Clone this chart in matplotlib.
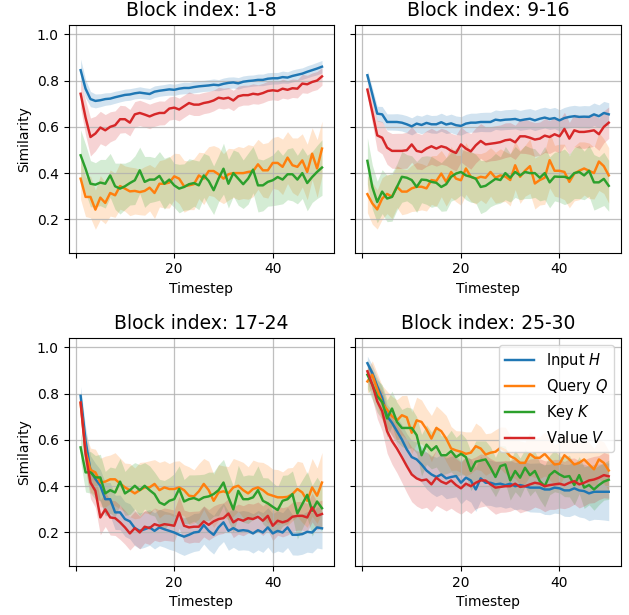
import numpy as np
import matplotlib
matplotlib.use("Agg")
import matplotlib.pyplot as plt

timesteps = np.arange(1, 51)
titles = ["Block index: 1-8", "Block index: 9-16", "Block index: 17-24", "Block index: 25-30"]
labels = ["Input $H$", "Query $Q$", "Key $K$", "Value $V$"]
colors = ["#1f77b4", "#ff7f0e", "#2ca02c", "#d62728"]

# Block 1-8
h1 = [0.845, 0.765, 0.720, 0.712, 0.715, 0.720, 0.722, 0.728, 0.733, 0.738, 0.740, 0.745, 0.748, 0.745, 0.742, 0.752, 0.756, 0.759, 0.762, 0.760,
      0.765, 0.768, 0.768, 0.772, 0.775, 0.777, 0.779, 0.782, 0.780, 0.786, 0.790, 0.792, 0.788, 0.795, 0.798, 0.800, 0.803, 0.803, 0.808, 0.810,
      0.810, 0.815, 0.813, 0.820, 0.825, 0.830, 0.838, 0.845, 0.852, 0.860]
q1 = [0.376, 0.297, 0.297, 0.242, 0.294, 0.271, 0.314, 0.304, 0.344, 0.333, 0.321, 0.323, 0.318, 0.323, 0.337, 0.314, 0.354, 0.354, 0.359, 0.386,
      0.376, 0.343, 0.347, 0.352, 0.390, 0.376, 0.409, 0.409, 0.395, 0.376, 0.395, 0.400, 0.400, 0.400, 0.405, 0.408, 0.438, 0.412, 0.412, 0.444,
      0.444, 0.427, 0.467, 0.434, 0.427, 0.455, 0.405, 0.484, 0.420, 0.506]
k1 = [0.477, 0.419, 0.354, 0.350, 0.359, 0.354, 0.390, 0.343, 0.333, 0.343, 0.357, 0.369, 0.412, 0.362, 0.372, 0.372, 0.388, 0.354, 0.372, 0.347,
      0.333, 0.340, 0.352, 0.357, 0.347, 0.390, 0.366, 0.326, 0.376, 0.419, 0.354, 0.400, 0.376, 0.352, 0.376, 0.415, 0.347, 0.347, 0.362, 0.369,
      0.383, 0.372, 0.395, 0.395, 0.372, 0.400, 0.357, 0.383, 0.405, 0.424]
v1 = [0.743, 0.640, 0.556, 0.571, 0.597, 0.585, 0.600, 0.607, 0.633, 0.633, 0.618, 0.654, 0.660, 0.653, 0.645, 0.654, 0.660, 0.660, 0.679, 0.683,
      0.675, 0.689, 0.703, 0.696, 0.696, 0.703, 0.707, 0.714, 0.726, 0.722, 0.726, 0.714, 0.732, 0.737, 0.737, 0.743, 0.740, 0.746, 0.755, 0.758,
      0.755, 0.765, 0.760, 0.767, 0.765, 0.787, 0.784, 0.794, 0.800, 0.818]
h1_sd = [0.048, 0.040, 0.033, 0.030, 0.028, 0.027, 0.026, 0.026, 0.025, 0.025, 0.025, 0.024, 0.025, 0.024, 0.024, 0.025, 0.024, 0.024, 0.025, 0.024,
         0.024, 0.025, 0.024, 0.025, 0.025, 0.024, 0.025, 0.025, 0.024, 0.025, 0.025, 0.024, 0.025, 0.025, 0.025, 0.024, 0.025, 0.025, 0.026, 0.025,
         0.025, 0.026, 0.025, 0.026, 0.026, 0.025, 0.026, 0.026, 0.027, 0.027]
q1_sd = [0.090, 0.085, 0.090, 0.085, 0.095, 0.090, 0.100, 0.095, 0.100, 0.098, 0.105, 0.100, 0.098, 0.105, 0.100, 0.110, 0.100, 0.105, 0.110, 0.100,
         0.108, 0.112, 0.105, 0.110, 0.100, 0.112, 0.105, 0.110, 0.115, 0.108, 0.112, 0.105, 0.115, 0.110, 0.118, 0.110, 0.108, 0.115, 0.120, 0.110,
         0.115, 0.120, 0.112, 0.118, 0.125, 0.115, 0.120, 0.112, 0.125, 0.118]
k1_sd = [0.110, 0.105, 0.100, 0.095, 0.100, 0.105, 0.095, 0.100, 0.110, 0.100, 0.095, 0.105, 0.100, 0.110, 0.100, 0.095, 0.105, 0.110, 0.100, 0.095,
         0.105, 0.100, 0.110, 0.100, 0.105, 0.095, 0.110, 0.105, 0.100, 0.110, 0.105, 0.100, 0.115, 0.105, 0.110, 0.100, 0.115, 0.110, 0.105, 0.110,
         0.120, 0.105, 0.110, 0.115, 0.105, 0.110, 0.120, 0.110, 0.115, 0.120]
v1_sd = [0.062, 0.075, 0.082, 0.075, 0.070, 0.068, 0.065, 0.062, 0.060, 0.058, 0.057, 0.055, 0.055, 0.054, 0.053, 0.052, 0.052, 0.051, 0.050, 0.050,
         0.049, 0.048, 0.048, 0.047, 0.047, 0.046, 0.046, 0.045, 0.045, 0.045, 0.044, 0.044, 0.044, 0.043, 0.043, 0.043, 0.042, 0.042, 0.042, 0.041,
         0.041, 0.041, 0.040, 0.040, 0.040, 0.040, 0.039, 0.039, 0.039, 0.038]

# Block 9-16
h2 = [0.823, 0.741, 0.657, 0.654, 0.621, 0.621, 0.621, 0.618, 0.611, 0.602, 0.614, 0.608, 0.617, 0.611, 0.611, 0.620, 0.610, 0.615, 0.607, 0.604,
      0.614, 0.618, 0.618, 0.621, 0.621, 0.621, 0.631, 0.628, 0.631, 0.632, 0.634, 0.628, 0.632, 0.635, 0.628, 0.635, 0.640, 0.634, 0.638, 0.628,
      0.638, 0.643, 0.646, 0.643, 0.644, 0.643, 0.654, 0.646, 0.660, 0.654]
q2 = [0.309, 0.269, 0.243, 0.290, 0.310, 0.298, 0.341, 0.320, 0.320, 0.334, 0.341, 0.341, 0.334, 0.370, 0.366, 0.398, 0.362, 0.405, 0.376, 0.369,
      0.420, 0.384, 0.376, 0.384, 0.380, 0.405, 0.380, 0.390, 0.385, 0.370, 0.434, 0.384, 0.410, 0.430, 0.355, 0.370, 0.380, 0.456, 0.410, 0.410,
      0.405, 0.362, 0.398, 0.410, 0.420, 0.410, 0.400, 0.450, 0.430, 0.390]
k2 = [0.453, 0.340, 0.275, 0.320, 0.290, 0.297, 0.340, 0.384, 0.380, 0.370, 0.340, 0.372, 0.370, 0.362, 0.358, 0.340, 0.352, 0.384, 0.398, 0.405,
      0.390, 0.384, 0.376, 0.340, 0.345, 0.360, 0.375, 0.370, 0.400, 0.380, 0.405, 0.390, 0.405, 0.400, 0.400, 0.380, 0.400, 0.360, 0.385, 0.384,
      0.384, 0.377, 0.400, 0.405, 0.390, 0.410, 0.360, 0.360, 0.375, 0.345]
v2 = [0.761, 0.664, 0.563, 0.553, 0.510, 0.496, 0.496, 0.496, 0.499, 0.524, 0.496, 0.491, 0.506, 0.516, 0.506, 0.516, 0.510, 0.496, 0.487, 0.524,
      0.506, 0.494, 0.520, 0.539, 0.524, 0.527, 0.530, 0.534, 0.542, 0.545, 0.533, 0.559, 0.559, 0.553, 0.545, 0.549, 0.562, 0.556, 0.568, 0.559,
      0.591, 0.549, 0.585, 0.578, 0.578, 0.581, 0.585, 0.568, 0.600, 0.618]
h2_sd = [0.020, 0.028, 0.032, 0.034, 0.035, 0.035, 0.036, 0.036, 0.037, 0.037, 0.037, 0.038, 0.038, 0.038, 0.039, 0.039, 0.039, 0.040, 0.040, 0.040,
         0.040, 0.041, 0.041, 0.041, 0.042, 0.042, 0.042, 0.042, 0.043, 0.043, 0.043, 0.043, 0.044, 0.044, 0.044, 0.045, 0.045, 0.045, 0.046, 0.046,
         0.046, 0.047, 0.047, 0.047, 0.048, 0.048, 0.049, 0.049, 0.050, 0.050]
q2_sd = [0.080, 0.090, 0.085, 0.090, 0.085, 0.095, 0.090, 0.100, 0.095, 0.100, 0.105, 0.100, 0.098, 0.105, 0.110, 0.100, 0.105, 0.110, 0.100, 0.108,
         0.112, 0.105, 0.110, 0.100, 0.112, 0.105, 0.110, 0.115, 0.108, 0.112, 0.105, 0.115, 0.110, 0.118, 0.110, 0.108, 0.115, 0.120, 0.110, 0.115,
         0.120, 0.112, 0.118, 0.125, 0.115, 0.120, 0.112, 0.125, 0.118, 0.120]
k2_sd = [0.100, 0.095, 0.090, 0.095, 0.100, 0.105, 0.100, 0.110, 0.100, 0.105, 0.110, 0.100, 0.105, 0.110, 0.100, 0.105, 0.115, 0.105, 0.110, 0.100,
         0.105, 0.110, 0.105, 0.115, 0.110, 0.105, 0.110, 0.100, 0.115, 0.105, 0.110, 0.105, 0.115, 0.110, 0.105, 0.100, 0.115, 0.110, 0.105, 0.110,
         0.120, 0.105, 0.110, 0.115, 0.105, 0.110, 0.120, 0.110, 0.115, 0.110]
v2_sd = [0.030, 0.050, 0.065, 0.070, 0.072, 0.075, 0.076, 0.076, 0.078, 0.077, 0.078, 0.076, 0.077, 0.078, 0.076, 0.078, 0.077, 0.076, 0.078, 0.076,
         0.075, 0.077, 0.076, 0.075, 0.076, 0.074, 0.075, 0.074, 0.075, 0.073, 0.074, 0.073, 0.074, 0.072, 0.073, 0.072, 0.073, 0.071, 0.072, 0.071,
         0.072, 0.070, 0.071, 0.070, 0.071, 0.070, 0.069, 0.070, 0.069, 0.068]

# Block 17-24
h3 = [0.791, 0.597, 0.467, 0.431, 0.402, 0.344, 0.344, 0.287, 0.287, 0.258, 0.248, 0.219, 0.207, 0.214, 0.222, 0.207, 0.222, 0.214, 0.207, 0.200,
      0.190, 0.182, 0.190, 0.200, 0.203, 0.232, 0.207, 0.190, 0.222, 0.244, 0.207, 0.219, 0.207, 0.210, 0.207, 0.196, 0.210, 0.200, 0.222, 0.196,
      0.207, 0.200, 0.222, 0.190, 0.190, 0.193, 0.203, 0.200, 0.222, 0.218]
q3 = [0.760, 0.550, 0.470, 0.460, 0.416, 0.420, 0.430, 0.430, 0.412, 0.395, 0.383, 0.369, 0.383, 0.395, 0.395, 0.410, 0.383, 0.395, 0.388, 0.388,
      0.395, 0.383, 0.359, 0.356, 0.378, 0.410, 0.383, 0.337, 0.373, 0.378, 0.370, 0.395, 0.402, 0.383, 0.369, 0.388, 0.395, 0.383, 0.366, 0.359,
      0.352, 0.352, 0.354, 0.366, 0.388, 0.373, 0.337, 0.395, 0.359, 0.416]
k3 = [0.568, 0.460, 0.460, 0.438, 0.438, 0.369, 0.383, 0.373, 0.420, 0.369, 0.383, 0.402, 0.383, 0.402, 0.383, 0.366, 0.330, 0.320, 0.337, 0.344,
      0.388, 0.334, 0.344, 0.349, 0.340, 0.352, 0.356, 0.366, 0.383, 0.416, 0.352, 0.300, 0.380, 0.344, 0.344, 0.352, 0.383, 0.337, 0.326, 0.311,
      0.297, 0.337, 0.344, 0.366, 0.282, 0.323, 0.363, 0.294, 0.334, 0.305]
v3 = [0.762, 0.539, 0.416, 0.380, 0.265, 0.300, 0.265, 0.262, 0.244, 0.222, 0.196, 0.219, 0.200, 0.225, 0.219, 0.236, 0.229, 0.236, 0.233, 0.229,
      0.287, 0.229, 0.222, 0.225, 0.225, 0.248, 0.233, 0.248, 0.258, 0.262, 0.282, 0.244, 0.258, 0.251, 0.262, 0.258, 0.268, 0.251, 0.272, 0.229,
      0.251, 0.244, 0.251, 0.268, 0.272, 0.272, 0.265, 0.308, 0.272, 0.280]
h3_sd = [0.040, 0.060, 0.065, 0.068, 0.070, 0.072, 0.072, 0.074, 0.075, 0.075, 0.076, 0.076, 0.077, 0.078, 0.077, 0.078, 0.079, 0.078, 0.080, 0.079,
         0.080, 0.081, 0.080, 0.082, 0.081, 0.082, 0.082, 0.083, 0.082, 0.083, 0.084, 0.083, 0.084, 0.085, 0.084, 0.085, 0.085, 0.086, 0.085, 0.086,
         0.087, 0.086, 0.087, 0.087, 0.088, 0.087, 0.088, 0.088, 0.089, 0.089]
q3_sd = [0.040, 0.080, 0.095, 0.100, 0.105, 0.110, 0.105, 0.115, 0.110, 0.105, 0.115, 0.110, 0.120, 0.110, 0.115, 0.105, 0.120, 0.115, 0.110, 0.120,
         0.115, 0.110, 0.125, 0.115, 0.120, 0.110, 0.125, 0.115, 0.120, 0.110, 0.115, 0.125, 0.110, 0.120, 0.115, 0.125, 0.110, 0.120, 0.125, 0.115,
         0.120, 0.110, 0.125, 0.115, 0.120, 0.130, 0.115, 0.125, 0.120, 0.130]
k3_sd = [0.060, 0.085, 0.090, 0.095, 0.100, 0.095, 0.100, 0.105, 0.100, 0.095, 0.105, 0.100, 0.110, 0.100, 0.105, 0.095, 0.100, 0.105, 0.100, 0.110,
         0.100, 0.095, 0.105, 0.100, 0.110, 0.100, 0.105, 0.095, 0.110, 0.100, 0.105, 0.100, 0.110, 0.100, 0.105, 0.095, 0.105, 0.100, 0.110, 0.105,
         0.100, 0.110, 0.105, 0.100, 0.110, 0.105, 0.100, 0.110, 0.105, 0.100]
v3_sd = [0.040, 0.065, 0.070, 0.072, 0.075, 0.074, 0.076, 0.075, 0.074, 0.073, 0.072, 0.072, 0.071, 0.070, 0.071, 0.070, 0.069, 0.070, 0.069, 0.068,
         0.069, 0.068, 0.068, 0.067, 0.068, 0.067, 0.066, 0.067, 0.066, 0.066, 0.065, 0.066, 0.065, 0.065, 0.064, 0.065, 0.064, 0.064, 0.063, 0.064,
         0.063, 0.063, 0.062, 0.063, 0.062, 0.062, 0.061, 0.062, 0.061, 0.060]

# Block 25-30
h4 = [0.932, 0.889, 0.832, 0.782, 0.703, 0.674, 0.638, 0.602, 0.559, 0.526, 0.516, 0.494, 0.468, 0.451, 0.440, 0.451, 0.434, 0.440, 0.444, 0.415,
      0.437, 0.425, 0.386, 0.434, 0.415, 0.415, 0.408, 0.411, 0.405, 0.411, 0.400, 0.405, 0.400, 0.394, 0.394, 0.394, 0.386, 0.386, 0.394, 0.391,
      0.382, 0.382, 0.391, 0.382, 0.379, 0.369, 0.376, 0.376, 0.376, 0.376]
q4 = [0.853, 0.882, 0.818, 0.760, 0.731, 0.703, 0.684, 0.707, 0.698, 0.631, 0.685, 0.678, 0.646, 0.606, 0.652, 0.638, 0.606, 0.563, 0.555, 0.549,
      0.540, 0.545, 0.573, 0.563, 0.537, 0.545, 0.549, 0.566, 0.555, 0.530, 0.519, 0.501, 0.501, 0.540, 0.523, 0.523, 0.540, 0.516, 0.494, 0.497,
      0.534, 0.516, 0.494, 0.501, 0.516, 0.494, 0.473, 0.516, 0.501, 0.468]
k4 = [0.882, 0.839, 0.789, 0.764, 0.693, 0.736, 0.678, 0.652, 0.652, 0.652, 0.621, 0.534, 0.580, 0.555, 0.573, 0.534, 0.534, 0.552, 0.526, 0.540,
      0.526, 0.466, 0.506, 0.511, 0.516, 0.480, 0.440, 0.487, 0.494, 0.425, 0.466, 0.437, 0.480, 0.448, 0.466, 0.422, 0.400, 0.448, 0.466, 0.451,
      0.440, 0.444, 0.405, 0.448, 0.394, 0.405, 0.386, 0.405, 0.420, 0.428]
v4 = [0.897, 0.839, 0.767, 0.724, 0.638, 0.595, 0.563, 0.526, 0.487, 0.451, 0.434, 0.425, 0.429, 0.408, 0.437, 0.420, 0.411, 0.425, 0.405, 0.391,
      0.411, 0.400, 0.415, 0.425, 0.425, 0.408, 0.394, 0.397, 0.400, 0.400, 0.411, 0.397, 0.400, 0.408, 0.415, 0.411, 0.400, 0.405, 0.408, 0.411,
      0.405, 0.415, 0.422, 0.408, 0.415, 0.425, 0.429, 0.437, 0.448, 0.443]
h4_sd = [0.030, 0.035, 0.040, 0.045, 0.050, 0.055, 0.060, 0.065, 0.068, 0.072, 0.075, 0.078, 0.080, 0.082, 0.085, 0.086, 0.088, 0.090, 0.090, 0.092,
         0.093, 0.094, 0.095, 0.096, 0.097, 0.098, 0.098, 0.099, 0.100, 0.101, 0.102, 0.103, 0.104, 0.105, 0.106, 0.107, 0.108, 0.109, 0.110, 0.110,
         0.112, 0.113, 0.114, 0.115, 0.116, 0.118, 0.119, 0.120, 0.122, 0.125]
q4_sd = [0.050, 0.060, 0.070, 0.075, 0.080, 0.085, 0.090, 0.085, 0.095, 0.090, 0.100, 0.095, 0.090, 0.100, 0.095, 0.090, 0.100, 0.095, 0.085, 0.090,
         0.095, 0.090, 0.100, 0.095, 0.090, 0.085, 0.095, 0.090, 0.100, 0.090, 0.085, 0.095, 0.090, 0.095, 0.085, 0.090, 0.095, 0.090, 0.085, 0.095,
         0.090, 0.085, 0.095, 0.090, 0.085, 0.095, 0.090, 0.085, 0.090, 0.085]
k4_sd = [0.060, 0.065, 0.070, 0.075, 0.080, 0.075, 0.085, 0.080, 0.090, 0.085, 0.080, 0.090, 0.085, 0.080, 0.090, 0.085, 0.080, 0.090, 0.085, 0.090,
         0.080, 0.085, 0.090, 0.085, 0.080, 0.090, 0.085, 0.090, 0.080, 0.085, 0.090, 0.085, 0.080, 0.090, 0.085, 0.080, 0.090, 0.085, 0.090, 0.080,
         0.085, 0.090, 0.085, 0.080, 0.090, 0.085, 0.090, 0.085, 0.080, 0.085]
v4_sd = [0.040, 0.060, 0.075, 0.085, 0.095, 0.100, 0.105, 0.110, 0.115, 0.118, 0.120, 0.122, 0.120, 0.118, 0.120, 0.115, 0.118, 0.120, 0.115, 0.112,
         0.115, 0.118, 0.112, 0.115, 0.110, 0.112, 0.115, 0.110, 0.112, 0.108, 0.110, 0.112, 0.108, 0.110, 0.105, 0.108, 0.110, 0.105, 0.108, 0.105,
         0.102, 0.105, 0.100, 0.102, 0.100, 0.098, 0.100, 0.095, 0.098, 0.095]

blocks = [
    ([h1, q1, k1, v1], [h1_sd, q1_sd, k1_sd, v1_sd]),
    ([h2, q2, k2, v2], [h2_sd, q2_sd, k2_sd, v2_sd]),
    ([h3, q3, k3, v3], [h3_sd, q3_sd, k3_sd, v3_sd]),
    ([h4, q4, k4, v4], [h4_sd, q4_sd, k4_sd, v4_sd]),
]

fig, axes = plt.subplots(2, 2, figsize=(6.29, 6.15), dpi=100, sharey=True)
fig.subplots_adjust(left=0.109, right=0.987, top=0.960, bottom=0.080, wspace=0.08, hspace=0.373)

for i, ax in enumerate(axes.flat):
    means, sds = blocks[i]
    for m, s, c, lab in zip(means, sds, colors, labels):
        m = np.array(m)
        s = np.array(s)
        ax.plot(timesteps, m, color=c, lw=1.75, label=lab)
        ax.fill_between(timesteps, m - s, m + s, color=c, alpha=0.2, lw=0)
    ax.set_title(titles[i], fontsize=13.5)
    ax.set_xlabel("Timestep")
    ax.set_xticks([0, 20, 40])
    ax.set_xticklabels(["", "20", "40"])
    ax.set_yticks([0.2, 0.4, 0.6, 0.8, 1.0])
    ax.grid(True, color="#b0b0b0", lw=0.9, alpha=0.8)
    ax.set_xlim(-1.45, 52.45)
    ax.set_ylim(0.056, 1.042)
    if i % 2 == 0:
        ax.set_ylabel("Similarity")

axes[1, 1].legend(loc="upper right", fontsize=10.5)

plt.savefig("out.png")
